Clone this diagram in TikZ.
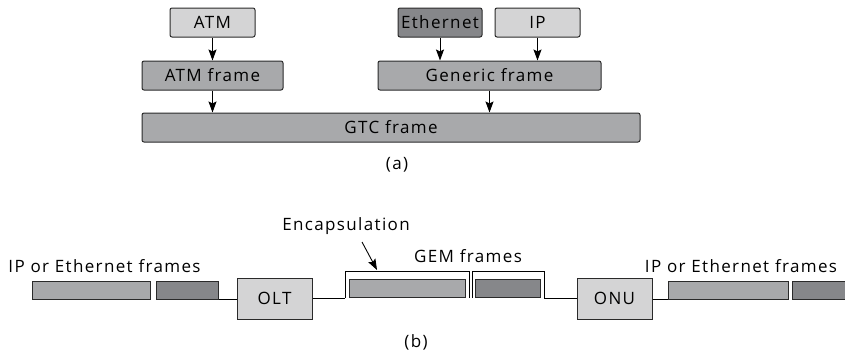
\documentclass[tikz,border=0pt]{standalone}
\usepackage{fontspec}
\setmainfont{Open Sans}[LetterSpace=8]
\usetikzlibrary{arrows.meta,positioning}

\definecolor{boxlight}{HTML}{D4D4D5}
\definecolor{boxmid}{HTML}{A8A9AB}
\definecolor{boxdark}{HTML}{86878A}
\definecolor{edgegray}{HTML}{2A2A2A}

\begin{document}
\begin{tikzpicture}[x=1pt, y=-1pt,
  every node/.style={font=\fontsize{17}{20}\selectfont, inner sep=0pt},
  topbox/.style={draw=edgegray, line width=1pt, rounded corners=2pt, minimum height=29pt},
  flatbox/.style={draw=edgegray, line width=1pt},
  arr/.style={-{Stealth[length=11pt,width=8pt,inset=2pt]}, line width=0.9pt},
  wire/.style={line width=0.9pt}]
  \useasboundingbox (0,0) rectangle (845,356);

  %% (a) top row
  \node[topbox, fill=boxlight, minimum width=85pt] (atm) at (212.5,22.5) {ATM};
  \node[topbox, fill=boxdark, minimum width=84pt] (eth) at (440,22.5) {Ethernet};
  \node[topbox, fill=boxlight, minimum width=85pt] (ip) at (537.5,22.5) {IP};
  %% (a) middle row
  \node[topbox, fill=boxmid, minimum width=141pt] (atmframe) at (212.5,75.5) {ATM frame};
  \node[topbox, fill=boxmid, minimum width=223pt] (genframe) at (489.5,75.5) {Generic frame};
  %% (a) bottom row
  \node[topbox, fill=boxmid, minimum width=498pt] (gtcframe) at (391,127.5) {GTC frame};
  \node (capa) at (397,165) {(a)};

  \draw[arr] (atm) -- (atmframe);
  \draw[arr] (eth) -- (eth |- genframe.north);
  \draw[arr] (ip) -- (ip |- genframe.north);
  \draw[arr] (atmframe) -- (atmframe |- gtcframe.north);
  \draw[arr] (genframe) -- (genframe |- gtcframe.north);

  %% (b) left side frames
  \node (leftlab) at (104.5,266) {IP or Ethernet frames};
  \node[flatbox, fill=boxmid, minimum width=118pt, minimum height=18pt] (lfr1) at (91,290) {};
  \node[flatbox, fill=boxdark, minimum width=62pt, minimum height=18pt] (lfr2) at (187,290) {};
  \node[flatbox, fill=boxlight, minimum width=75pt, minimum height=41pt] (olt) at (274.5,298.5) {OLT};

  %% (b) GEM frames with encapsulation brackets
  \node[flatbox, fill=boxmid, line width=1.6pt, minimum width=116pt, minimum height=18pt] (gem1) at (407.5,288.5) {};
  \node[flatbox, fill=boxdark, line width=1.6pt, minimum width=65pt, minimum height=18pt] (gem2) at (508,288.5) {};
  \coordinate (br1l) at (345,298);
  \coordinate (br1r) at (469,298);
  \coordinate (br2l) at (472,298);
  \coordinate (br2r) at (544,298);
  \draw[wire] (br1l) -- ++(0,-27) -| (br1r);
  \draw[wire] (br2l) -- ++(0,-27) -| (br2r);
  \node (encap) at (346,226) {Encapsulation};
  \node (gemlab) at (468,256) {GEM frames};
  \coordinate (encapfrom) at (362,242);
  \coordinate (encapto) at (377,270);
  \draw[arr] (encapfrom) -- (encapto);

  %% (b) right side
  \node[flatbox, fill=boxlight, minimum width=75pt, minimum height=41pt] (onu) at (614.5,298.5) {ONU};
  \node (rightlab) at (741,266) {IP or Ethernet frames};
  \node[flatbox, fill=boxmid, minimum width=120pt, minimum height=18pt] (rfr1) at (728,290) {};
  \node[flatbox, fill=boxdark, minimum width=62pt, minimum height=18pt] (rfr2) at (823,290) {};
  \node (capb) at (416,342) {(b)};

  %% link line
  \draw[wire] (lfr2.south east) -- (olt.west |- lfr2.south east);
  \draw[wire] (olt.east |- br1l) -- (br1l);
  \draw[wire] (br2r) -- (onu.west |- br2r);
  \draw[wire] (onu.east |- rfr1.south west) -- (rfr1.south west);
\end{tikzpicture}
\end{document}
